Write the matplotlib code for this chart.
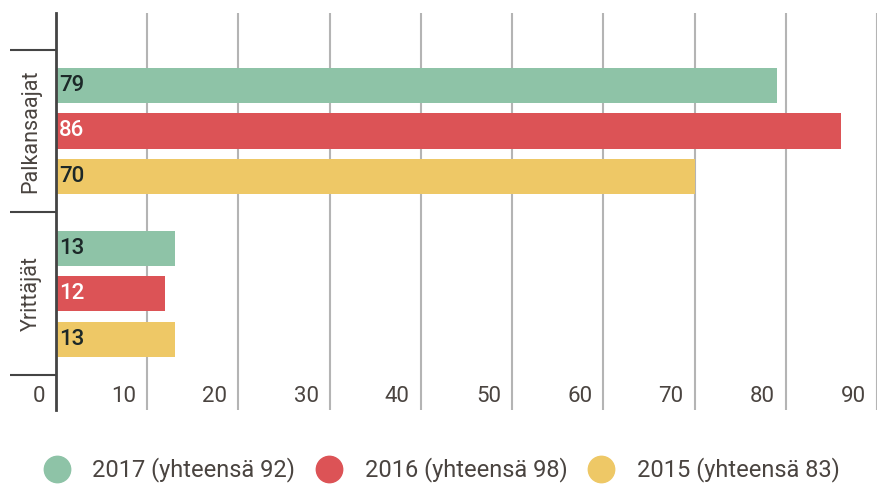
import matplotlib.pyplot as plt
import matplotlib.transforms as mtransforms
from matplotlib.lines import Line2D

# Data
groups = ['Palkansaajat', 'Yrittäjät']
years = ['2017 (yhteensä 92)', '2016 (yhteensä 98)', '2015 (yhteensä 83)']
values = {
    '2017 (yhteensä 92)': [79, 13],
    '2016 (yhteensä 98)': [86, 12],
    '2015 (yhteensä 83)': [70, 13],
}
colors = ['#8ec3a7', '#dc5356', '#eec866']
label_colors = ['#1c2828', '#ffffff', '#1c2828']
xticks = [0, 10, 20, 30, 40, 50, 60, 70, 80, 90]

plt.rcParams['font.family'] = ['Roboto', 'DejaVu Sans']

fig = plt.figure(figsize=(8.77, 4.84), dpi=100)
ax = fig.add_axes([56 / 877, 1 - 410 / 484, 1 - 56 / 877, 397 / 484])

pitch = 0.279
height = 0.215
for i, (year, col, lc) in enumerate(zip(years, colors, label_colors)):
    pos = [g + (i - 1) * pitch for g in range(len(groups))]
    ax.barh(pos, values[year], height=height, color=col, zorder=3)
    for p, v in zip(pos, values[year]):
        ax.text(0.35, p, str(v), va='center', ha='left', fontsize=16,
                fontweight='medium', color=lc, zorder=4)

ax.set_xlim(0, 89.6)
ax.set_ylim(1.712, -0.724)

# vertical gridlines, tick labels sit inside the plot just left of each line
ax.set_xticks(xticks)
ax.grid(axis='x', color='#b4b4b4', linewidth=1.5, zorder=0)
ax.tick_params(axis='x', length=0, pad=-17, labelsize=16, labelcolor='#4a4440')
offset = mtransforms.ScaledTranslation(-8 / 72, 0, fig.dpi_scale_trans)
for lab in ax.get_xticklabels():
    lab.set_horizontalalignment('right')
    lab.set_transform(lab.get_transform() + offset)

# category labels and dividers on the left
ax.set_yticks(range(len(groups)))
ax.set_yticklabels(groups, rotation=90, va='center', fontsize=15.5, color='#4a4440')
ax.tick_params(axis='y', length=0, pad=10.5)
ax.set_yticks([-0.5, 0.5, 1.5], minor=True)
ax.tick_params(axis='y', which='minor', length=33, width=1.5, color='#444444')

for s in ['top', 'right', 'bottom']:
    ax.spines[s].set_visible(False)
ax.spines['left'].set_color('#444444')
ax.spines['left'].set_linewidth(2)
ax.spines['left'].set_zorder(5)

handles = [Line2D([], [], marker='o', linestyle='none', markersize=19,
                  markerfacecolor=c, markeredgecolor=c) for c in colors]
fig.legend(handles, years, loc='center', bbox_to_anchor=(0.503, 1 - 470 / 484),
           ncol=3, frameon=False, fontsize=17, handlelength=1.2,
           handletextpad=0.9, columnspacing=0.84, labelcolor='#4a4440')

fig.savefig('out.png', dpi=100)
